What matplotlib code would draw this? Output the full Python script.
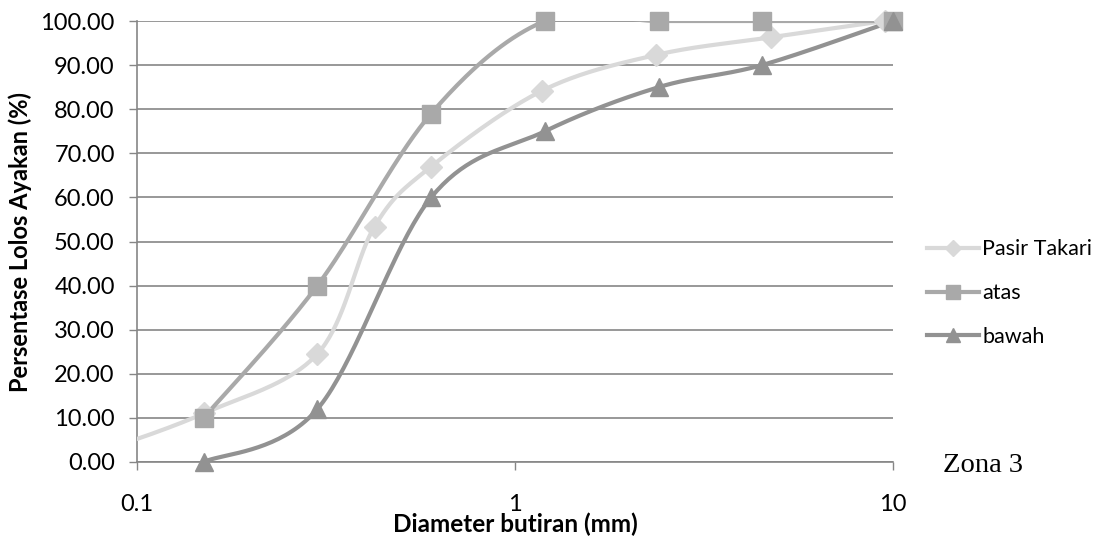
import numpy as np
import matplotlib

matplotlib.use("Agg")
import matplotlib.pyplot as plt
from matplotlib.lines import Line2D

# sieve sizes (mm) and percent passing
pasir_x = [0.075, 0.15, 0.3, 0.425, 0.6, 1.18, 2.36, 4.75, 9.5]
pasir_y = [1.5, 11.0, 24.5, 53.4, 67.0, 84.2, 92.3, 96.3, 100.0]

batas_x = [0.15, 0.3, 0.6, 1.2, 2.4, 4.5, 10.0]
atas_y = [10.0, 40.0, 79.0, 100.0, 100.0, 100.0, 100.0]
bawah_y = [0.0, 12.0, 60.0, 75.0, 85.0, 90.0, 100.0]

series_names = ["Pasir Takari", "atas", "bawah"]
y_ticks = np.arange(0, 101, 10)
x_ticks = [0.1, 1, 10]
x_tick_labels = ["0.1", "1", "10"]

FONT = "Lato"
GRID = "#868686"
XMIN, XMAX = 0.1, 10


def smooth(xs, ys, n=40):
    """Excel-like smoothed line (Catmull-Rom Bezier in log-x space)."""
    pts = np.column_stack([np.log10(xs), ys])
    out = []
    for i in range(len(pts) - 1):
        p0 = pts[i - 1] if i > 0 else pts[i]
        p1, p2 = pts[i], pts[i + 1]
        p3 = pts[i + 2] if i + 2 < len(pts) else pts[i + 1]
        c1 = p1 + (p2 - p0) / 6
        c2 = p2 - (p3 - p1) / 6
        t = np.linspace(0, 1, n)[:, None]
        seg = ((1 - t) ** 3) * p1 + 3 * ((1 - t) ** 2) * t * c1 + 3 * (1 - t) * t ** 2 * c2 + t ** 3 * p2
        out.append(seg if i == 0 else seg[1:])
    out = np.vstack(out)
    return 10 ** out[:, 0], out[:, 1]


fig = plt.figure(figsize=(11.1, 5.38), dpi=100)
ax = fig.add_axes([137 / 1110, 1 - 462 / 538, 756 / 1110, 441 / 538])

styles = [
    (pasir_x, pasir_y, "#D9D9D9", "D", 11),
    (batas_x, atas_y, "#A9A9A9", "s", 13),
    (batas_x, bawah_y, "#929292", "^", 13),
]
handles = []
for (xs, ys, color, marker, ms), name in zip(styles, series_names):
    sx, sy = smooth(xs, ys)
    ax.plot(sx, sy, color=color, lw=3.0, solid_capstyle="round", zorder=3)
    xs_arr, ys_arr = np.array(xs), np.array(ys)
    keep = (xs_arr >= XMIN) & (xs_arr <= XMAX)
    ax.plot(xs_arr[keep], ys_arr[keep], ls="none", marker=marker, ms=ms, color=color,
            mec=color, zorder=4, clip_on=False)
    handles.append(Line2D([], [], color=color, lw=3.0, marker=marker, ms=ms * 0.75, mec=color))

ax.set_xscale("log")
ax.set_xlim(XMIN, XMAX)
ax.set_ylim(0, 100)
ax.set_yticks(y_ticks)
ax.set_yticklabels([f"{v:.2f}" for v in y_ticks], fontfamily=FONT, fontsize=17)
ax.set_xticks(x_ticks)
ax.set_xticklabels(x_tick_labels, fontfamily=FONT, fontsize=17)
ax.xaxis.set_minor_locator(matplotlib.ticker.NullLocator())
ax.tick_params(axis="y", length=6, width=1, color=GRID, pad=10)
ax.tick_params(axis="x", length=6, width=1, color=GRID, pad=17)
ax.grid(axis="y", color=GRID, lw=1.2)
ax.set_axisbelow(True)
for side in ("top", "right"):
    ax.spines[side].set_visible(False)
for side in ("left", "bottom"):
    ax.spines[side].set_color(GRID)
    ax.spines[side].set_linewidth(1.2)

ax.set_ylabel("Persentase Lolos Ayakan (%)", fontfamily=FONT, fontsize=17, fontweight="bold")
ax.yaxis.set_label_coords(-105 / 756, 0.5)
ax.set_xlabel("Diameter butiran (mm)", fontfamily=FONT, fontsize=17.5, fontweight="bold")
ax.xaxis.set_label_coords(0.5, -51 / 441)

fig.legend(
    handles, series_names,
    loc="upper left", bbox_to_anchor=(908 / 1110, 1 - 220 / 538),
    frameon=False, prop={"family": FONT, "size": 15.5},
    handlelength=2.4, handletextpad=0.15, labelspacing=1.1,
)

fig.text(943 / 1110, 1 - 465 / 538, "Zona 3", fontfamily="Liberation Serif", fontsize=20.5, va="center")

fig.savefig("out.png", dpi=100)
